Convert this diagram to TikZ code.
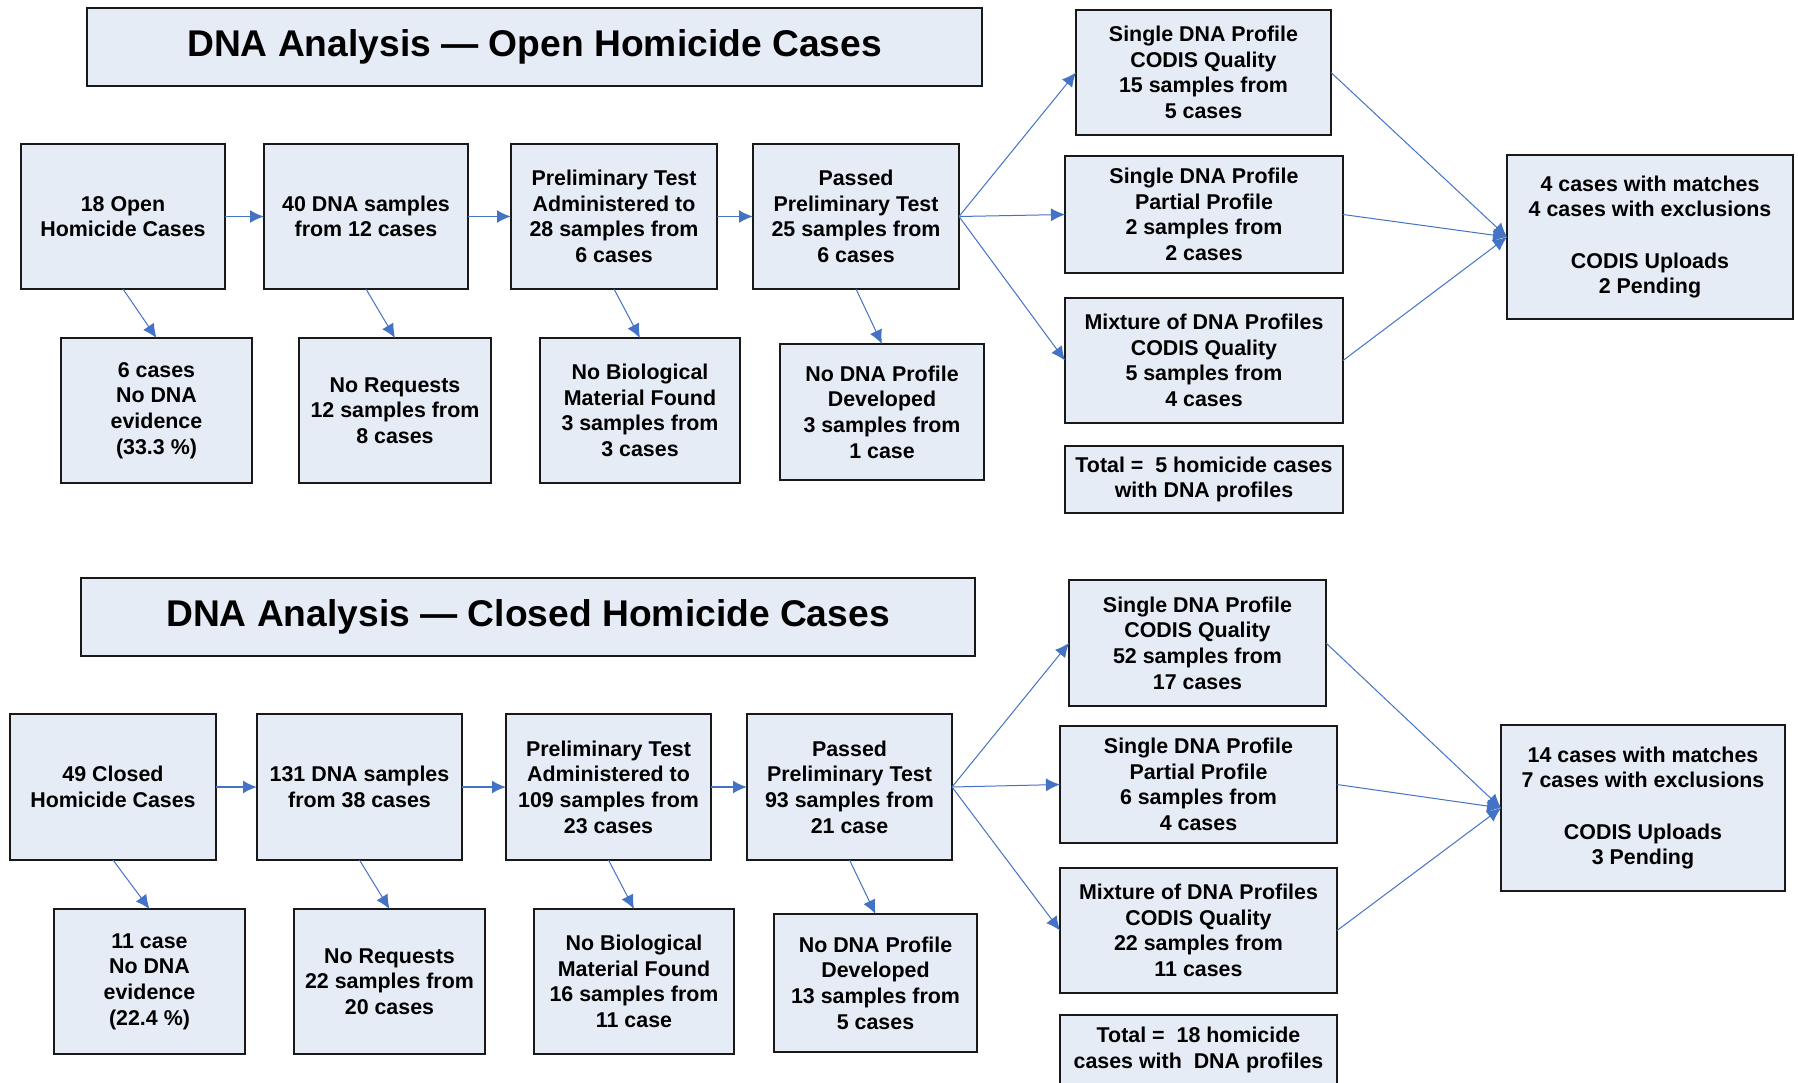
\documentclass[tikz,border=0pt]{standalone}
\usepackage{fontspec}
\setmainfont{Liberation Sans}
\usetikzlibrary{arrows.meta,shadows}
\definecolor{boxfill}{RGB}{230,236,246}
\definecolor{flowblue}{RGB}{68,114,196}
\newcommand\flowbodyfont{\fontsize{10.7pt}{12.8pt}\selectfont\bfseries}
\newcommand\flowtitlefont{\fontsize{18.6pt}{22pt}\selectfont\bfseries}
\tikzset{
  box/.style={draw=black!90, line width=0.6pt, fill=boxfill, inner sep=0pt, outer sep=0pt,
    align=center, font=\flowbodyfont,
    drop shadow={shadow xshift=0.7pt, shadow yshift=-0.7pt, fill=black!40, opacity=1}},
  titlebox/.style={box, font=\flowtitlefont},
  flow/.style={draw=flowblue, line width=0.9pt, -{Latex[length=7pt,width=6.5pt]}},
  branch/.style={draw=flowblue, line width=0.5pt, -{Latex[length=7pt,width=6.5pt]}},
}
% \mkbox[style]{name}{left}{top}{right}{bottom}{text}, coordinates in pixels
\newcommand\mkbox[7][box]{%
  \node[#1, minimum width={(#5-#3)*0.5pt}, minimum height={(#6-#4)*0.5pt}]
    (#2) at ({(#3+#5)/2},{(#4+#6)/2}) {#7};}
\begin{document}
\begin{tikzpicture}[x=0.5pt,y=-0.5pt]
\useasboundingbox (0,0) rectangle (1798,1082);
\fill[white] (0,0) rectangle (1798,1082);
\clip (0,0) rectangle (1798,1082);

% ---------- open cases ----------
\mkbox[titlebox]{topen}{87}{8}{982}{86}{DNA Analysis --- Open Homicide Cases}
\mkbox{a1}{21}{144}{225}{289}{18 Open\\Homicide Cases}
\mkbox{a2}{264}{144}{468}{289}{40 DNA samples\\from 12 cases}
\mkbox{a3}{511}{144}{717}{289}{Preliminary Test\\Administered to\\28 samples from\\6 cases}
\mkbox{a4}{753}{144}{959}{289}{Passed\\Preliminary Test\\25 samples from\\6 cases}
\mkbox{b1}{61}{338}{252}{483}{6 cases\\No DNA\\evidence\\(33.3 \%)}
\mkbox{b2}{299}{338}{491}{483}{No Requests\\12 samples from\\8 cases}
\mkbox{b3}{540}{338}{740}{483}{No Biological\\Material Found\\3 samples from\\3 cases}
\mkbox{b4}{780}{344}{984}{480}{No DNA Profile\\Developed\\3 samples from\\1 case}
\mkbox{c1}{1076}{10}{1331}{135}{Single DNA Profile\\CODIS Quality\\15 samples from\\5 cases}
\mkbox{c2}{1065}{156}{1343}{273}{Single DNA Profile\\Partial Profile\\2 samples from\\2 cases}
\mkbox{c3}{1065}{298}{1343}{423}{Mixture of DNA Profiles\\CODIS Quality\\5 samples from\\4 cases}
\mkbox{t1}{1065}{446}{1343}{513}{Total =\ \ 5 homicide cases\\with DNA profiles}
\mkbox{d}{1507}{155}{1793}{319}{4 cases with matches\\4 cases with exclusions\\[12.8pt]CODIS Uploads\\2 Pending}

\draw[flow] (a1.east) -- (a2.west);
\draw[flow] (a2.east) -- (a3.west);
\draw[flow] (a3.east) -- (a4.west);
\draw[branch] (a1.south) -- (b1.north);
\draw[branch] (a2.south) -- (b2.north);
\draw[branch] (a3.south) -- (b3.north);
\draw[branch] (a4.south) -- (b4.north);
\draw[branch] (a4.east) -- (c1.west);
\draw[branch] (a4.east) -- (c2.west);
\draw[branch] (a4.east) -- (c3.west);
\draw[branch] (c1.east) -- (d.west);
\draw[branch] (c2.east) -- (d.west);
\draw[branch] (c3.east) -- (d.west);

% ---------- closed cases ----------
\mkbox[titlebox]{tclosed}{81}{578}{975}{656}{DNA Analysis --- Closed Homicide Cases}
\mkbox{e1}{10}{714}{216}{860}{49 Closed\\Homicide Cases}
\mkbox{e2}{257}{714}{462}{860}{131 DNA samples\\from 38 cases}
\mkbox{e3}{506}{714}{711}{860}{Preliminary Test\\Administered to\\109 samples from\\23 cases}
\mkbox{e4}{747}{714}{952}{860}{Passed\\Preliminary Test\\93 samples from\\21 case}
\mkbox{f1}{54}{909}{245}{1054}{11 case\\No DNA\\evidence\\(22.4 \%)}
\mkbox{f2}{294}{909}{485}{1054}{No Requests\\22 samples from\\20 cases}
\mkbox{f3}{534}{909}{734}{1054}{No Biological\\Material Found\\16 samples from\\11 case}
\mkbox{f4}{774}{914}{977}{1052}{No DNA Profile\\Developed\\13 samples from\\5 cases}
\mkbox{g1}{1069}{580}{1326}{706}{Single DNA Profile\\CODIS Quality\\52 samples from\\17 cases}
\mkbox{g2}{1060}{726}{1337}{843}{Single DNA Profile\\Partial Profile\\6 samples from\\4 cases}
\mkbox{g3}{1060}{868}{1337}{993}{Mixture of DNA Profiles\\CODIS Quality\\22 samples from\\11 cases}
\mkbox{t2}{1060}{1015}{1337}{1085}{Total =\ \ 18 homicide\\cases with\ \ DNA profiles}
\mkbox{h}{1501}{725}{1785}{891}{14 cases with matches\\7 cases with exclusions\\[12.8pt]CODIS Uploads\\3 Pending}

\draw[flow] (e1.east) -- (e2.west);
\draw[flow] (e2.east) -- (e3.west);
\draw[flow] (e3.east) -- (e4.west);
\draw[branch] (e1.south) -- (f1.north);
\draw[branch] (e2.south) -- (f2.north);
\draw[branch] (e3.south) -- (f3.north);
\draw[branch] (e4.south) -- (f4.north);
\draw[branch] (e4.east) -- (g1.west);
\draw[branch] (e4.east) -- (g2.west);
\draw[branch] (e4.east) -- (g3.west);
\draw[branch] (g1.east) -- (h.west);
\draw[branch] (g2.east) -- (h.west);
\draw[branch] (g3.east) -- (h.west);
\end{tikzpicture}
\end{document}
